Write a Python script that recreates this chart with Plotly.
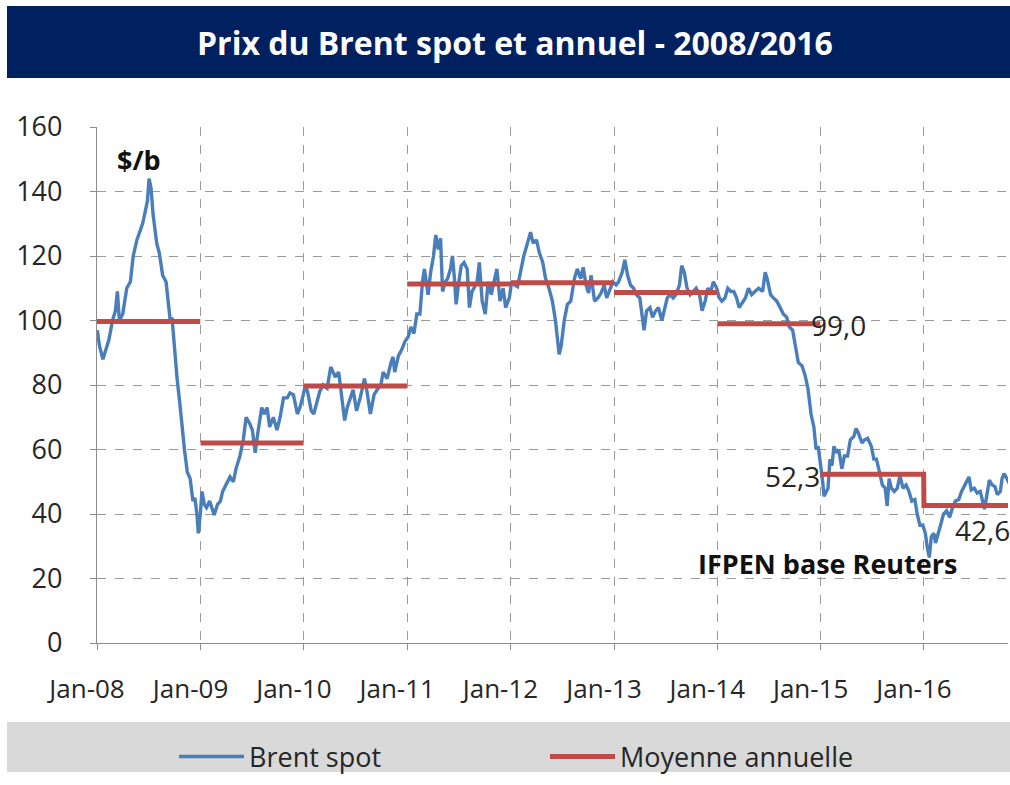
import plotly.graph_objects as go

# ---------------- data ----------------
spot_dates = [
    "2008-01-02","2008-01-10","2008-01-22","2008-02-01","2008-02-12","2008-02-25","2008-03-06","2008-03-13","2008-03-20","2008-04-01",
    "2008-04-15","2008-04-28","2008-05-08","2008-05-21","2008-06-02","2008-06-10","2008-06-20","2008-06-27","2008-07-03","2008-07-10",
    "2008-07-17","2008-07-30","2008-08-08","2008-08-20","2008-09-01","2008-09-10","2008-09-17","2008-09-22","2008-09-30","2008-10-10",
    "2008-10-20","2008-10-28","2008-11-05","2008-11-15","2008-11-25","2008-12-05","2008-12-12","2008-12-19","2008-12-24","2008-12-31",
    "2009-01-06","2009-01-14","2009-01-22","2009-02-02","2009-02-12","2009-02-18","2009-03-02","2009-03-12","2009-03-20","2009-04-01",
    "2009-04-15","2009-04-27","2009-05-06","2009-05-20","2009-06-01","2009-06-11","2009-06-24","2009-07-03","2009-07-13","2009-07-22",
    "2009-08-05","2009-08-14","2009-08-24","2009-09-02","2009-09-15","2009-09-28","2009-10-09","2009-10-21","2009-11-03","2009-11-13",
    "2009-11-25","2009-12-09","2009-12-18","2009-12-30",
    "2010-01-06","2010-01-14","2010-01-27","2010-02-05","2010-02-15","2010-02-26","2010-03-10","2010-03-24","2010-04-06","2010-04-14",
    "2010-04-22","2010-05-04","2010-05-14","2010-05-25","2010-06-03","2010-06-14","2010-06-24","2010-07-06","2010-07-19","2010-08-03",
    "2010-08-12","2010-08-24","2010-09-06","2010-09-17","2010-09-30","2010-10-08","2010-10-22","2010-11-05","2010-11-12","2010-11-18",
    "2010-12-01","2010-12-13","2010-12-24",
    "2011-01-05","2011-01-14","2011-01-25","2011-02-04","2011-02-15","2011-02-24","2011-03-03","2011-03-16","2011-03-25","2011-04-04",
    "2011-04-12","2011-04-21","2011-04-29","2011-05-06","2011-05-16","2011-05-24","2011-06-03","2011-06-10","2011-06-17","2011-06-23",
    "2011-07-01","2011-07-11","2011-07-21","2011-08-01","2011-08-09","2011-08-18","2011-08-25","2011-09-05","2011-09-13","2011-09-23",
    "2011-10-04","2011-10-14","2011-10-25","2011-11-04","2011-11-14","2011-11-25","2011-12-06","2011-12-15","2011-12-28",
    "2012-01-05","2012-01-16","2012-01-26","2012-02-07","2012-02-17","2012-03-01","2012-03-12","2012-03-21","2012-04-02","2012-04-12",
    "2012-04-24","2012-05-04","2012-05-16","2012-05-28","2012-06-08","2012-06-21","2012-06-28","2012-07-09","2012-07-20","2012-08-01",
    "2012-08-14","2012-08-24","2012-09-05","2012-09-14","2012-09-24","2012-10-03","2012-10-12","2012-10-24","2012-11-05","2012-11-16",
    "2012-11-27","2012-12-06","2012-12-17","2012-12-28",
    "2013-01-08","2013-01-17","2013-01-30","2013-02-08","2013-02-18","2013-02-28","2013-03-11","2013-03-21","2013-04-02","2013-04-12",
    "2013-04-17","2013-04-26","2013-05-08","2013-05-17","2013-05-28","2013-06-07","2013-06-19","2013-06-27","2013-07-08","2013-07-18",
    "2013-07-29","2013-08-08","2013-08-20","2013-08-28","2013-09-06","2013-09-16","2013-09-27","2013-10-08","2013-10-18","2013-10-30",
    "2013-11-08","2013-11-19","2013-11-28","2013-12-09","2013-12-18","2013-12-30",
    "2014-01-08","2014-01-17","2014-01-28","2014-02-07","2014-02-18","2014-02-28","2014-03-10","2014-03-19","2014-03-31","2014-04-10",
    "2014-04-21","2014-05-02","2014-05-14","2014-05-27","2014-06-10","2014-06-19","2014-06-26","2014-07-08","2014-07-18","2014-07-30",
    "2014-08-11","2014-08-22","2014-09-03","2014-09-12","2014-09-24","2014-10-03","2014-10-14","2014-10-27","2014-11-07","2014-11-17",
    "2014-11-28","2014-12-08","2014-12-16","2014-12-23","2014-12-31",
    "2015-01-07","2015-01-13","2015-01-20","2015-01-27","2015-02-03","2015-02-10","2015-02-17","2015-02-25","2015-03-06","2015-03-17",
    "2015-03-26","2015-04-06","2015-04-16","2015-04-28","2015-05-06","2015-05-15","2015-05-27","2015-06-05","2015-06-16","2015-06-29",
    "2015-07-08","2015-07-17","2015-07-28","2015-08-07","2015-08-17","2015-08-24","2015-08-31","2015-09-08","2015-09-18","2015-09-29",
    "2015-10-08","2015-10-19","2015-10-30","2015-11-09","2015-11-19","2015-11-30","2015-12-08","2015-12-18","2015-12-28",
    "2016-01-06","2016-01-12","2016-01-20","2016-01-27","2016-02-05","2016-02-11","2016-02-19","2016-03-01","2016-03-10","2016-03-21",
    "2016-04-01","2016-04-11","2016-04-21","2016-05-03","2016-05-13","2016-05-26","2016-06-08","2016-06-16","2016-06-27","2016-07-07",
    "2016-07-18","2016-08-02","2016-08-12","2016-08-19","2016-08-29","2016-09-08","2016-09-16","2016-09-27","2016-10-03","2016-10-10",
    "2016-10-20","2016-10-28",
]
spot_values = [
    97, 92, 88, 91, 94, 100, 103, 109, 100, 102,
    110, 112, 120, 125, 128, 130, 134, 137, 144, 141,
    133, 124, 121, 114, 112, 103, 99, 101, 92, 82,
    74, 66, 60, 53, 51, 44, 45, 40, 34, 40,
    47, 43, 42, 44, 41, 39.7, 43, 44, 47, 49,
    51.5, 50, 54, 58, 63, 70, 68, 66, 59, 65,
    73, 71, 73, 67, 70, 66, 70, 76, 76, 77.5,
    77, 71, 73, 77,
    80, 78, 72, 71, 74, 78, 80, 79, 85.6, 84,
    82.5, 84, 76, 69, 73, 76, 78.5, 72, 76, 82,
    78, 71, 77, 78.5, 80, 84, 82, 87, 88.7, 84,
    89, 91, 93.5,
    95, 98, 96, 102, 102, 112, 116, 108, 115, 120,
    126.5, 122, 125.5, 109, 112, 113, 116, 120, 113, 105,
    111, 117, 118, 116, 104, 109, 110, 112, 118, 106,
    102, 112, 108, 112, 116, 106, 110, 104, 107,
    112, 111, 110.5, 116, 120, 124, 127.4, 124, 125, 121,
    118, 113, 110, 106, 100, 89.5, 92, 100, 105, 106,
    113, 116, 113, 116.5, 111, 108.5, 114, 106, 107, 108.5,
    111, 107, 109.5, 112,
    111, 112, 115, 118.8, 114, 111, 110, 108, 107, 100,
    97, 103, 104, 101, 103, 104, 100, 103, 107, 108,
    107, 108, 111, 117, 115, 110, 108, 109, 110, 108,
    103, 106, 110, 109, 112, 110,
    107, 106, 107, 110, 109, 109, 107, 104, 105.5, 107,
    110, 108, 109, 110, 109, 115, 113, 108, 107, 106,
    104, 102, 101, 98, 97, 92, 87, 86, 83, 79,
    71, 67, 60, 61, 56,
    51, 45.5, 47, 48, 57, 55, 61, 59, 60, 54,
    58, 58, 63, 64, 66.5, 65, 62, 63, 63.5, 61,
    57, 57, 53, 49, 48, 42.5, 51, 48, 47, 48,
    52, 48, 49, 47, 44, 44.5, 40, 36.5, 36.5,
    34, 30, 26.5, 33, 34, 31, 34, 37, 40, 41,
    39, 42, 44, 44.5, 47, 49.5, 51.5, 47.5, 48, 46.5,
    47, 41.5, 46, 50.5, 49, 48.5, 46, 47, 51, 52.5,
    51, 49.5,
]

avg_years = [2008, 2009, 2010, 2011, 2012, 2013, 2014, 2015, 2016]
avg_values = [99.7, 62.0, 79.7, 111.3, 111.7, 108.7, 99.0, 52.3, 42.6]
connected_years = [2015]  # the 2015 -> 2016 step is drawn joined

series_names = ["Brent spot", "Moyenne annuelle"]
title_text = "Prix du Brent spot et annuel - 2008/2016"
unit_text = "$/b"
source_text = "IFPEN base Reuters"
value_labels = ["99,0", "52,3", "42,6"]

# ---------------- geometry helpers (pixels -> paper) ----------------
FIG_W, FIG_H = 1010, 785
L, R, T, B = 97, 2, 127, 142
PW, PH = FIG_W - L - R, FIG_H - T - B


def px(x):
    return (x - L) / PW


def py(y):
    return (FIG_H - B - y) / PH


# annual-average step line
avg_x, avg_y = [], []
for yr, v in zip(avg_years, avg_values):
    avg_x += [f"{yr}-01-01", f"{yr}-12-31"]
    avg_y += [v, v]
    if yr not in connected_years:
        avg_x.append(None)
        avg_y.append(None)

FONT = "Open Sans"
BLUE = "#4A7EBB"
RED = "#BE4B48"
TXT = "#262626"

fig = go.Figure()
fig.add_trace(go.Scatter(x=spot_dates, y=spot_values, mode="lines", name=series_names[0],
                         line=dict(color=BLUE, width=3.4), legend="legend"))
fig.add_trace(go.Scatter(x=avg_x, y=avg_y, mode="lines", name=series_names[1],
                         line=dict(color=RED, width=5), connectgaps=False, legend="legend2"))

legend_common = dict(orientation="h", yanchor="middle", xanchor="left",
                     font=dict(size=27, family=FONT, color=TXT),
                     bgcolor="rgba(0,0,0,0)", itemwidth=65, borderwidth=0)

fig.update_layout(
    width=FIG_W, height=FIG_H,
    margin=dict(l=L, r=R, t=T, b=B),
    paper_bgcolor="white", plot_bgcolor="white",
    font=dict(family=FONT, color=TXT),
    showlegend=True,
    legend=dict(x=px(174), y=py(757), **legend_common),
    legend2=dict(x=px(545), y=py(757), **legend_common),
    xaxis=dict(
        type="date", range=["2008-01-01", "2016-10-24"],
        tick0="2008-01-01", dtick="M12", tickformat="%b-%y",
        showgrid=True, gridcolor="#9A9A9A", griddash="dash", gridwidth=1,
        showline=True, linecolor="#8C8C8C", linewidth=1.2,
        ticks="outside", ticklen=6, tickcolor="#8C8C8C",
        tickfont=dict(size=26, family=FONT, color=TXT),
        ticklabelstandoff=17, ticklabelshift=-10,
        zeroline=False, fixedrange=True,
    ),
    yaxis=dict(
        range=[0, 160], dtick=20, tick0=0,
        showgrid=True, gridcolor="#9A9A9A", griddash="dash", gridwidth=1,
        showline=True, linecolor="#8C8C8C", linewidth=1.2,
        ticks="outside", ticklen=6, tickcolor="#8C8C8C",
        tickfont=dict(size=27, family=FONT, color=TXT),
        ticklabelstandoff=22,
        zeroline=False, fixedrange=True,
    ),
    shapes=[
        dict(type="rect", xref="paper", yref="paper", x0=px(7), x1=px(1012), y0=py(78), y1=py(6),
             fillcolor="#002060", line=dict(width=0), layer="below"),
        dict(type="rect", xref="paper", yref="paper", x0=px(7), x1=px(1012), y0=py(772), y1=py(722),
             fillcolor="#D9D9D9", line=dict(width=0), layer="below"),
    ],
    annotations=[
        dict(text=title_text, xref="paper", yref="paper", x=px(515), y=py(43), showarrow=False,
             xanchor="center", yanchor="middle", font=dict(size=32, family=FONT, color="white", weight="bold")),
        dict(text=f"<b>{unit_text}</b>", xref="paper", yref="paper", x=px(139), y=py(159), showarrow=False,
             xanchor="center", yanchor="middle", font=dict(size=27, family=FONT, color="#111111")),
        dict(text=f"<b>{source_text}</b>", xref="paper", yref="paper", x=px(696), y=py(563), showarrow=False,
             xanchor="left", yanchor="middle", font=dict(size=27, family=FONT, color="#111111")),
        dict(text=value_labels[0], xref="paper", yref="paper", x=px(809), y=py(325), showarrow=False,
             xanchor="left", yanchor="middle", font=dict(size=28, family=FONT, color=TXT)),
        dict(text=value_labels[1], xref="paper", yref="paper", x=px(822), y=py(476), showarrow=False,
             xanchor="right", yanchor="middle", font=dict(size=28, family=FONT, color=TXT)),
        dict(text=value_labels[2], xref="paper", yref="paper", x=px(953), y=py(530), showarrow=False,
             xanchor="left", yanchor="middle", font=dict(size=28, family=FONT, color=TXT)),
    ],
)

fig.write_html("out.html", config={"displayModeBar": False})

# remove the default page margin so the figure sits at the window's top-left corner
with open("out.html", encoding="utf-8") as f:
    html = f.read()
html = html.replace("<body>", '<body style="margin:0;overflow:hidden">', 1)
with open("out.html", "w", encoding="utf-8") as f:
    f.write(html)
